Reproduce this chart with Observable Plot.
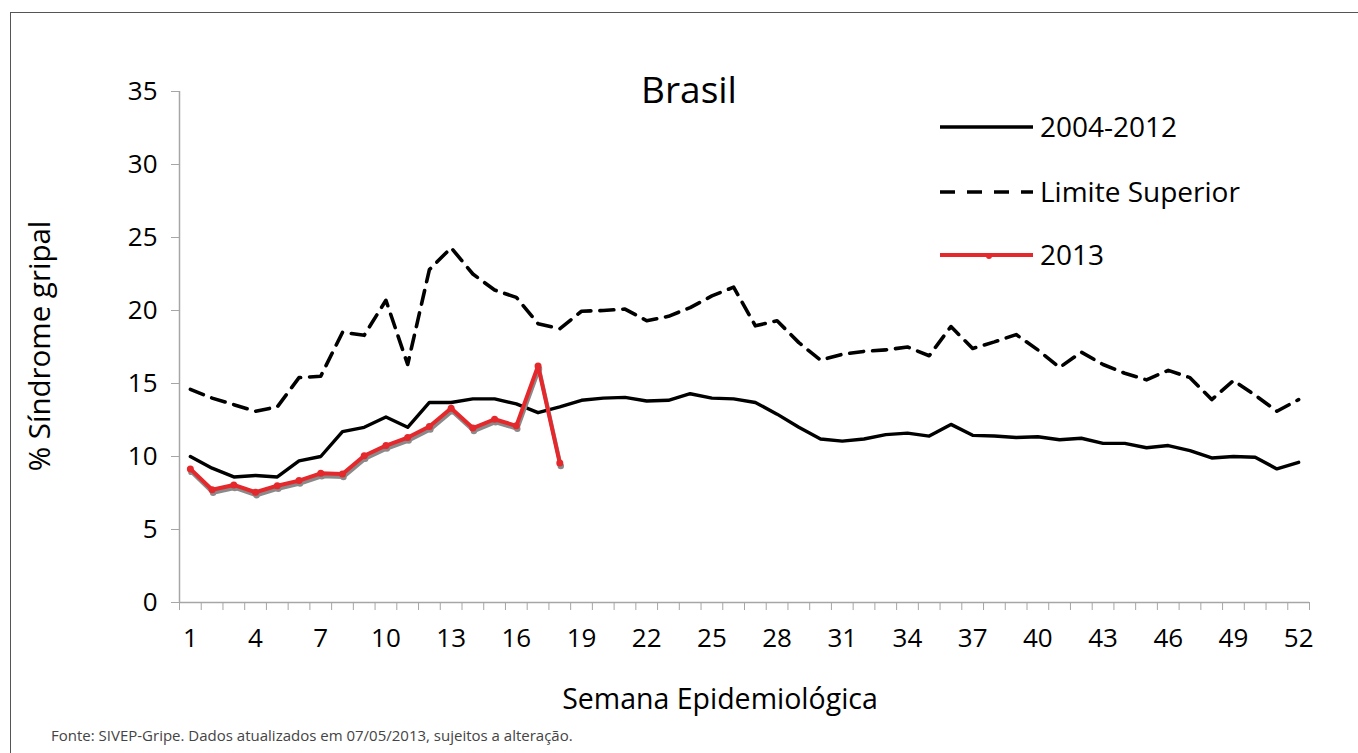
<!DOCTYPE html>
<html><head><meta charset="utf-8">
<script src="https://cdn.jsdelivr.net/npm/d3@7"></script>
<script src="https://cdn.jsdelivr.net/npm/@observablehq/plot@0.6"></script>
<style>
body{margin:0;background:#fff;font-family:"Open Sans",sans-serif;}
#wrap{position:relative;width:1358px;height:753px;overflow:hidden;background:#fff;}
#frame{position:absolute;left:10px;top:12px;width:1400px;height:800px;border-left:1.5px solid #555;border-top:1.5px solid #555;}
#chart{position:absolute;left:0;top:0;}
.c{position:absolute;transform:translate(-50%,-50%);white-space:nowrap;color:#000;}
#title{left:689px;top:88px;font-size:37px;}
#ylab{left:38px;top:346px;font-size:29.5px;transform:translate(-50%,-50%) rotate(-90deg);}
#xlab{left:720px;top:698px;font-size:28.5px;}
#foot{position:absolute;left:51px;top:725px;font-size:15px;color:#444;white-space:nowrap;}
#legend{position:absolute;left:0;top:0;}
</style></head>
<body>
<div id="wrap">
<div id="frame"></div>
<div id="chart"></div>
<div class="c" id="title">Brasil</div>
<div class="c" id="ylab">% Síndrome gripal</div>
<div class="c" id="xlab">Semana Epidemiológica</div>
<div id="foot">Fonte: SIVEP-Gripe. Dados atualizados em 07/05/2013, sujeitos a alteração.</div>
<svg id="legend" width="1358" height="753"></svg>
</div>
<script>
const weeks = [1,2,3,4,5,6,7,8,9,10,11,12,13,14,15,16,17,18,19,20,21,22,23,24,25,26,27,28,29,30,31,32,33,34,35,36,37,38,39,40,41,42,43,44,45,46,47,48,49,50,51,52];
const media2004_2012 = [10.0,9.2,8.6,8.7,8.6,9.7,10.0,11.7,12.0,12.7,
  12.0,13.7,13.7,13.95,13.95,13.6,13.0,13.4,13.85,14.0,
  14.05,13.8,13.85,14.3,14.0,13.95,13.7,12.9,12.0,11.2,
  11.05,11.2,11.5,11.6,11.4,12.2,11.45,11.4,11.3,11.35,
  11.15,11.25,10.9,10.9,10.6,10.75,10.4,9.9,10.0,9.95,
  9.15,9.6];
const limiteSuperior = [14.6,14.0,13.55,13.1,13.4,15.4,15.5,18.5,18.3,20.7,
  16.3,22.8,24.3,22.5,21.4,20.9,19.1,18.75,19.95,20.0,
  20.1,19.3,19.6,20.2,21.0,21.6,18.95,19.3,17.8,16.6,
  17.0,17.2,17.3,17.5,16.9,18.9,17.4,17.85,18.35,17.3,
  16.1,17.15,16.3,15.7,15.25,15.9,15.4,13.9,15.2,14.2,
  13.1,13.9];
const ano2013 = [9.15,7.72,8.05,7.55,8.0,8.35,8.85,8.8,10.05,10.75,11.3,12.05,13.3,11.95,12.55,12.1,16.2,9.55];
const yTicks = [0,5,10,15,20,25,30,35];
const xTickLabels = [1,4,7,10,13,16,19,22,25,28,31,34,37,40,43,46,49,52];
const seriesNames = ["2004-2012","Limite Superior","2013"];

const base = weeks.map((w,i)=>({week:w, media:media2004_2012[i], limite:limiteSuperior[i]}));
const d2013 = ano2013.map((v,i)=>({week:weeks[i], v}));
const tickEdges = weeks.map(w=>w-0.5).concat([weeks[weeks.length-1]+0.5]);

const axisGray = "#a6a6a6";
const red = "#e5282c";
const chart = Plot.plot({
  width:1358, height:753,
  marginLeft:179, marginRight:49, marginTop:91, marginBottom:151,
  style:{fontFamily:'"Open Sans", sans-serif', fontSize:"26px", color:"#000", background:"transparent", overflow:"visible"},
  x:{domain:[0.5,52.5]},
  y:{domain:[0,35]},
  marks:[
    Plot.ruleX([0.5], {y1:0, y2:35, stroke:axisGray, strokeWidth:1.5}),
    Plot.ruleY([0], {x1:0.5, x2:52.5, stroke:axisGray, strokeWidth:1.5}),
    Plot.axisY(yTicks, {tickSize:8, tickPadding:14, stroke:axisGray, fill:"#000", label:null, tickFormat:d=>String(d)}),
    Plot.axisX(tickEdges, {tickSize:8, tickFormat:()=>"", label:null, stroke:axisGray}),
    Plot.axisX(xTickLabels, {tickSize:0, tickPadding:26, label:null, fill:"#000", tickFormat:d=>String(d)}),
    Plot.line(base, {x:"week", y:"limite", stroke:"#000", strokeWidth:3.6, strokeDasharray:"14,9"}),
    Plot.line(base, {x:"week", y:"media", stroke:"#000", strokeWidth:3.4}),
    Plot.line(d2013, {x:"week", y:"v", stroke:"#8a8a8a", strokeWidth:4, dx:1, dy:3}),
    Plot.dot(d2013, {x:"week", y:"v", r:3.2, fill:"#8a8a8a", dx:1, dy:3}),
    Plot.line(d2013, {x:"week", y:"v", stroke:red, strokeWidth:4}),
    Plot.dot(d2013, {x:"week", y:"v", r:3.5, fill:red})
  ]
});
document.getElementById("chart").appendChild(chart);

// legend
const lg = d3.select("#legend");
const items = [
  {name:seriesNames[0], y:127, dash:null, color:"#000"},
  {name:seriesNames[1], y:192, dash:"15,12", color:"#000"},
  {name:seriesNames[2], y:255, dash:null, color:red, marker:true}
];
items.forEach(it=>{
  const l = lg.append("line").attr("x1",940).attr("x2",1033).attr("y1",it.y).attr("y2",it.y)
    .attr("stroke",it.color).attr("stroke-width",it.marker?4:3.6);
  if(it.dash) l.attr("stroke-dasharray",it.dash);
  if(it.marker) lg.append("circle").attr("cx",989).attr("cy",it.y+1).attr("r",3).attr("fill",it.color);
  lg.append("text").attr("x",1040).attr("y",it.y).attr("dy","0.35em")
    .attr("font-family",'"Open Sans", sans-serif').attr("font-size",28).attr("fill","#000").text(it.name);
});
</script>
</body></html>
